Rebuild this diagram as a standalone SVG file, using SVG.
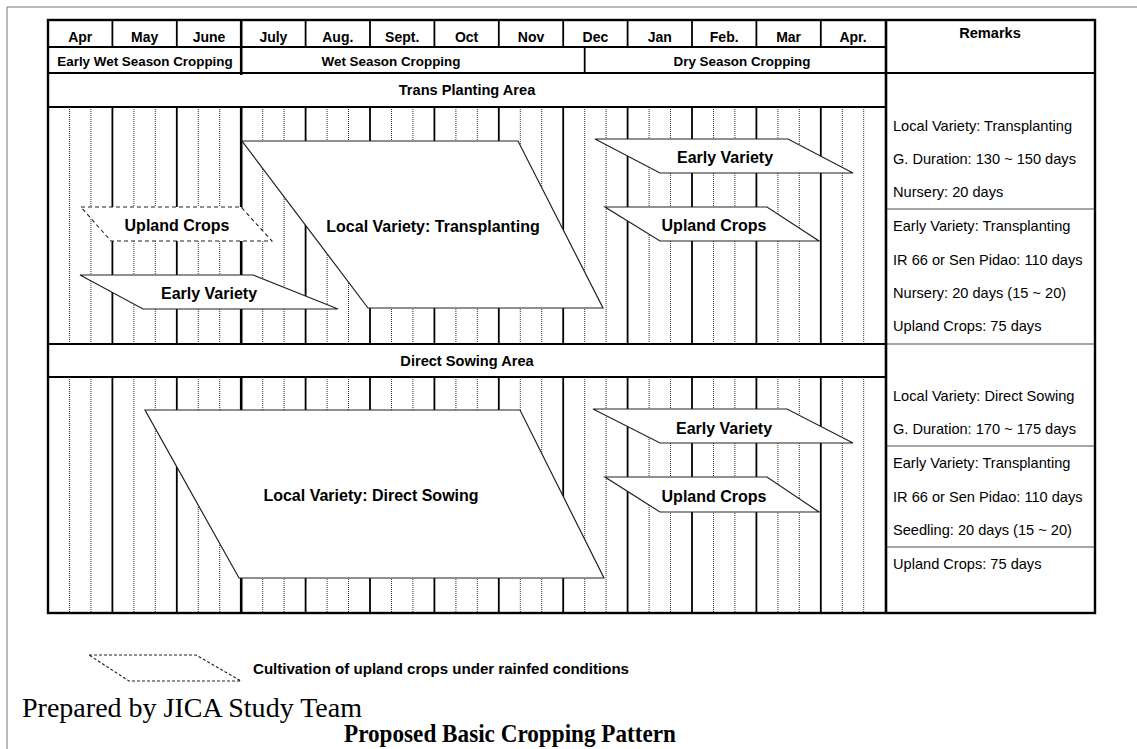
<svg xmlns="http://www.w3.org/2000/svg" width="1137" height="749" viewBox="0 0 1137 749">
  <defs>
    <style>
      .frame { fill: none; stroke: #777; stroke-width: 1; }
      .border { fill: none; stroke: #000; stroke-width: 2.4; }
      .rule { fill: none; stroke: #000; stroke-width: 1.8; }
      .heavy { fill: none; stroke: #000; stroke-width: 2.6; }
      .month { fill: none; stroke: #000; stroke-width: 1.8; }
      .dekad { fill: none; stroke: #333; stroke-width: 1; stroke-dasharray: 1 1; }
      .soft { fill: none; stroke: #8a8a8a; stroke-width: 1.6; }
      .crop { fill: #fff; stroke: #222; stroke-width: 1.2; }
      .rainfed { fill: #fff; stroke: #222; stroke-width: 1.1; stroke-dasharray: 4 3; }
      .hd { font-family: "Liberation Sans", Arial, sans-serif; font-weight: bold; fill: #000; text-anchor: middle; }
      .m { font-size: 14px; }
      .s { font-size: 13.4px; }
      .a { font-size: 14.6px; }
      .lbl { font-family: "Liberation Sans", Arial, sans-serif; font-weight: bold; font-size: 16px; fill: #000; text-anchor: middle; }
      .rm { font-family: "Liberation Sans", Arial, sans-serif; font-size: 14.6px; fill: #000; }
      .serif { font-family: "Liberation Serif", "Times New Roman", serif; fill: #000; }
    </style>
  </defs>

  <rect width="1137" height="749" fill="#fff"/>
  <!-- page frame (runs off the right and bottom edges) -->
  <path class="frame" d="M7 749V7H1137"/>

  <!-- calendar grid: month boundaries and dekad divisions -->
  <g id="grid-lines">
    <path class="dekad" d="M69.5 107V344M90.9 107V344M133.9 107V344M155.3 107V344M198.3 107V344M219.7 107V344M262.7 107V344M284.1 107V344M327.1 107V344M348.5 107V344M391.5 107V344M412.9 107V344M455.9 107V344M477.3 107V344M520.3 107V344M541.7 107V344M584.7 107V344M606.1 107V344M649.1 107V344M670.5 107V344M713.5 107V344M734.9 107V344M777.9 107V344M799.3 107V344M842.3 107V344M863.7 107V344"/>
    <path class="dekad" d="M69.5 377V613M90.9 377V613M133.9 377V613M155.3 377V613M198.3 377V613M219.7 377V613M262.7 377V613M284.1 377V613M327.1 377V613M348.5 377V613M391.5 377V613M412.9 377V613M455.9 377V613M477.3 377V613M520.3 377V613M541.7 377V613M584.7 377V613M606.1 377V613M649.1 377V613M670.5 377V613M713.5 377V613M734.9 377V613M777.9 377V613M799.3 377V613M842.3 377V613M863.7 377V613"/>
    <path class="month" d="M112.4 20V47M176.8 20V47M305.6 20V47M370 20V47M434.4 20V47M498.8 20V47M563.2 20V47M627.6 20V47M692 20V47M756.4 20V47M820.8 20V47"/>
    <path class="month" d="M112.4 107V344M176.8 107V344M305.6 107V344M370 107V344M434.4 107V344M498.8 107V344M563.2 107V344M627.6 107V344M692 107V344M756.4 107V344M820.8 107V344"/>
    <path class="month" d="M112.4 377V613M176.8 377V613M305.6 377V613M370 377V613M434.4 377V613M498.8 377V613M563.2 377V613M627.6 377V613M692 377V613M756.4 377V613M820.8 377V613"/>
    <path class="heavy" d="M241.2 20V75M241.2 107V344M241.2 377V613"/>
    <path class="rule" d="M584.7 47V73"/>
  </g>

  <!-- table rules -->
  <g id="table">
    <path class="rule" d="M48 47H886M48 73H1095M48 107H886M48 344H886M48 377H886"/>
    <path class="soft" d="M886 209H1095M886 344H1095M886 446H1095M886 547H1095"/>
    <path class="heavy" d="M886 20V613"/>
    <rect class="border" x="48" y="20" width="1047" height="593"/>
  </g>

  <!-- header texts -->
  <g id="header">
    <text class="hd m" x="80.2" y="42">Apr</text>
    <text class="hd m" x="144.6" y="42">May</text>
    <text class="hd m" x="209" y="42">June</text>
    <text class="hd m" x="273.4" y="42">July</text>
    <text class="hd m" x="337.8" y="42">Aug.</text>
    <text class="hd m" x="402.2" y="42">Sept.</text>
    <text class="hd m" x="466.6" y="42">Oct</text>
    <text class="hd m" x="531" y="42">Nov</text>
    <text class="hd m" x="595.4" y="42">Dec</text>
    <text class="hd m" x="659.8" y="42">Jan</text>
    <text class="hd m" x="724.2" y="42">Feb.</text>
    <text class="hd m" x="788.6" y="42">Mar</text>
    <text class="hd m" x="853" y="42">Apr.</text>
    <text class="hd a" x="990" y="38">Remarks</text>
    <text class="hd s" x="145" y="66">Early Wet Season Cropping</text>
    <text class="hd s" x="391" y="66">Wet Season Cropping</text>
    <text class="hd s" x="742" y="66">Dry Season Cropping</text>
    <text class="hd a" x="467" y="95">Trans Planting Area</text>
    <text class="hd a" x="467" y="366">Direct Sowing Area</text>
  </g>

  <!-- transplanting area crops -->
  <g id="tp-upland-early">
    <polygon class="rainfed" points="81,207 241,207 272,241 111,241"/>
    <text class="lbl" x="177" y="231">Upland Crops</text>
  </g>
  <g id="tp-local-variety">
    <polygon class="crop" points="242,141 518,141 603,308 368,308"/>
    <text class="lbl" x="433" y="232">Local Variety: Transplanting</text>
  </g>
  <g id="tp-early-wet">
    <polygon class="crop" points="80,275 253,275 338,309 143,309"/>
    <text class="lbl" x="209" y="299">Early Variety</text>
  </g>
  <g id="tp-early-dry">
    <polygon class="crop" points="595,139 788,139 853,173 660,173"/>
    <text class="lbl" x="725" y="163">Early Variety</text>
  </g>
  <g id="tp-upland-dry">
    <polygon class="crop" points="605,207 767,207 819,241 660,241"/>
    <text class="lbl" x="714" y="231">Upland Crops</text>
  </g>

  <!-- direct sowing area crops -->
  <g id="ds-local-variety">
    <polygon class="crop" points="145,410 520,410 604,578 239,578"/>
    <text class="lbl" x="371" y="501">Local Variety: Direct Sowing</text>
  </g>
  <g id="ds-early-dry">
    <polygon class="crop" points="593,409 787,409 853,443 660,443"/>
    <text class="lbl" x="724" y="434">Early Variety</text>
  </g>
  <g id="ds-upland-dry">
    <polygon class="crop" points="605,477 767,477 819,512 660,512"/>
    <text class="lbl" x="714" y="502">Upland Crops</text>
  </g>

  <!-- remarks column -->
  <g id="remarks">
    <text class="rm" x="893" y="131">Local Variety: Transplanting</text>
    <text class="rm" x="893" y="164">G. Duration: 130 ~ 150 days</text>
    <text class="rm" x="893" y="197">Nursery: 20 days</text>
    <text class="rm" x="893" y="231">Early Variety: Transplanting</text>
    <text class="rm" x="893" y="265">IR 66 or Sen Pidao: 110 days</text>
    <text class="rm" x="893" y="298">Nursery: 20 days (15 ~ 20)</text>
    <text class="rm" x="893" y="331">Upland Crops: 75 days</text>
    <text class="rm" x="893" y="401">Local Variety: Direct Sowing</text>
    <text class="rm" x="893" y="434">G. Duration: 170 ~ 175 days</text>
    <text class="rm" x="893" y="468">Early Variety: Transplanting</text>
    <text class="rm" x="893" y="502">IR 66 or Sen Pidao: 110 days</text>
    <text class="rm" x="893" y="535">Seedling: 20 days (15 ~ 20)</text>
    <text class="rm" x="893" y="569">Upland Crops: 75 days</text>
  </g>

  <!-- legend -->
  <g id="legend">
    <polygon class="rainfed" points="89,655 196,655 241,681 129,681" style="stroke-dasharray:3 2"/>
    <text x="253" y="674" font-family="Liberation Sans, Arial, sans-serif" font-weight="bold" font-size="15" textLength="376" lengthAdjust="spacingAndGlyphs">Cultivation of upland crops under rainfed conditions</text>
  </g>

  <!-- captions -->
  <text class="serif" x="22" y="717" font-size="27" textLength="340" lengthAdjust="spacingAndGlyphs">Prepared by JICA Study Team</text>
  <text class="serif" x="344" y="742" font-size="25" font-weight="bold" textLength="332" lengthAdjust="spacingAndGlyphs">Proposed Basic Cropping Pattern</text>
</svg>
